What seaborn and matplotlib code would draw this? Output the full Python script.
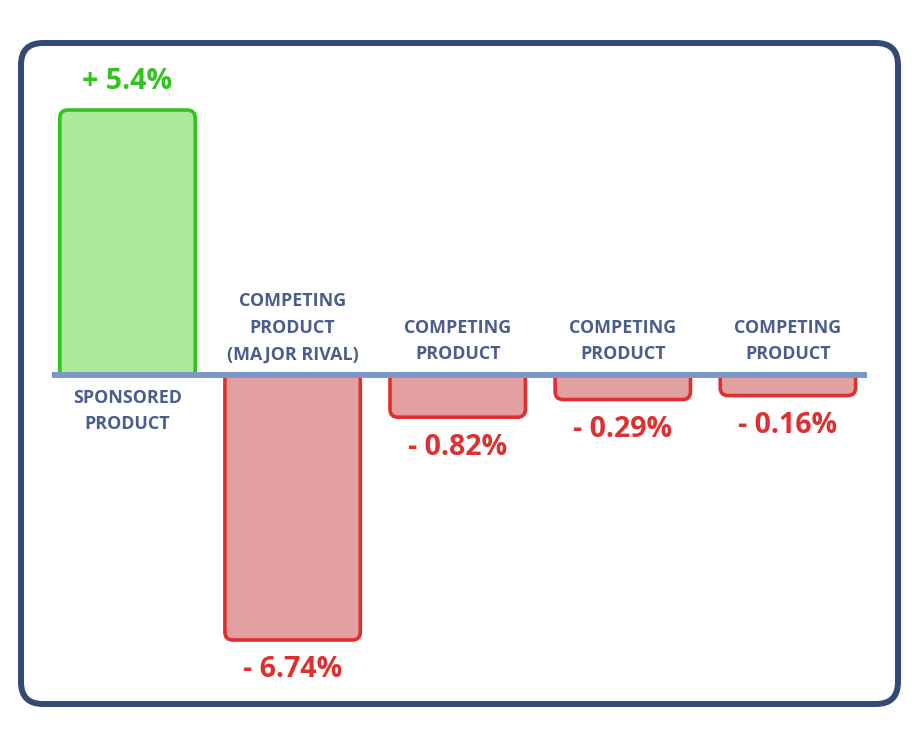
import matplotlib
matplotlib.use("Agg")
import matplotlib.pyplot as plt
import seaborn as sns
import pandas as pd
from matplotlib.patches import FancyBboxPatch, Rectangle

# ---- data ----
category_labels = ["SPONSORED\nPRODUCT", "COMPETING\nPRODUCT\n(MAJOR RIVAL)",
                   "COMPETING\nPRODUCT", "COMPETING\nPRODUCT", "COMPETING\nPRODUCT"]
category_keys = ["sponsored", "rival", "comp_a", "comp_b", "comp_c"]
changes = [5.4, -6.74, -0.82, -0.29, -0.16]          # labelled % change
bar_lengths = [5.4, -5.4, -0.86, -0.50, -0.42]       # drawn bar lengths (chart is not to scale)
value_labels = ["+ 5.4%", "- 6.74%", "- 0.82%", "- 0.29%", "- 0.16%"]

GREEN_EDGE, GREEN_FILL = "#30c41c", "#aeea9c"
RED_EDGE, RED_FILL = "#e02f2f", "#e2a0a0"
LABEL_COL = "#4a5e8c"
FRAME_COL = "#344a75"
BASE_COL = "#7b98c9"

sns.set_theme(style="white")
plt.rcParams["font.family"] = ["Open Sans", "DejaVu Sans"]

W, H = 918, 746
fig = plt.figure(figsize=(W / 100, H / 100), dpi=100)
ax = fig.add_axes([0, 0, 1, 1])

df = pd.DataFrame({
    "key": category_keys,
    "length": bar_lengths,
    "sign": ["pos" if v > 0 else "neg" for v in changes],
})
sns.barplot(data=df, x="key", y="length", hue="sign", order=category_keys,
            palette={"pos": GREEN_FILL, "neg": RED_FILL}, width=0.82,
            dodge=False, legend=False, ax=ax)

# pixel scales
XS, X0 = 165.1, 127.5      # px per category unit, px of first category
YS, Y0 = 49.07, H - 375    # px per value unit, px (from bottom) of baseline
ax.set_xlim(-X0 / XS, (W - X0) / XS)
ax.set_ylim(-Y0 / YS, (H - Y0) / YS)
ax.axis("off")

# replace bars with rounded-end bars
r = 8 / XS
asp = XS / YS
bars = list(ax.patches)
for p in bars:
    bb = p.get_bbox()
    x0, w = bb.x0, bb.width
    ylo, yhi = min(bb.y0, bb.y1), max(bb.y0, bb.y1)
    positive = yhi > 1e-9 and abs(ylo) < 1e-9
    extra = 3 * r * asp
    if positive:
        box_y, box_h = ylo - extra, (yhi - ylo) + extra
        clip = Rectangle((x0 - 1, 0), w + 2, yhi + 1, transform=ax.transData)
        fc, ec = GREEN_FILL, GREEN_EDGE
    else:
        box_y, box_h = ylo, (yhi - ylo) + extra
        clip = Rectangle((x0 - 1, ylo - 1), w + 2, (0 - ylo) + 1, transform=ax.transData)
        fc, ec = RED_FILL, RED_EDGE
    fb = FancyBboxPatch((x0, box_y), w, box_h,
                        boxstyle=f"round,pad=0,rounding_size={r}",
                        mutation_aspect=asp, facecolor=fc, edgecolor=ec,
                        linewidth=2.6, zorder=2)
    ax.add_patch(fb)
    fb.set_clip_path(clip)
    p.remove()

# baseline
ax.axhline(0, xmin=52 / W, xmax=867 / W, color=BASE_COL, linewidth=4.3, zorder=3,
           solid_capstyle="butt")

# value labels & category labels
for i, (L, txt, lab) in enumerate(zip(bar_lengths, value_labels, category_labels)):
    pos = L > 0
    col = GREEN_EDGE if pos else RED_EDGE
    ax.annotate(txt, xy=(i, L), xytext=(0, 20.5 if pos else -21.6),
                textcoords="offset points", ha="center", va="center",
                fontsize=20.5, fontweight="bold", color=col, zorder=4)
    ax.annotate(lab, xy=(i, 0), xytext=(0, -54.4 * 0.72 if pos else 15.6 * 0.72),
                textcoords="offset points", ha="center", va="baseline",
                multialignment="center", fontsize=12.9, fontweight="bold",
                color=LABEL_COL, linespacing=1.62, zorder=4)

# outer rounded frame
frame = FancyBboxPatch((21 / W, (H - 704) / H), 877 / W, 661 / H,
                       boxstyle=f"round,pad=0,rounding_size={22 / W}",
                       mutation_aspect=W / H, transform=fig.transFigure,
                       facecolor="none", edgecolor=FRAME_COL, linewidth=4.3)
fig.add_artist(frame)

fig.savefig("out.png", dpi=100, facecolor="white")
